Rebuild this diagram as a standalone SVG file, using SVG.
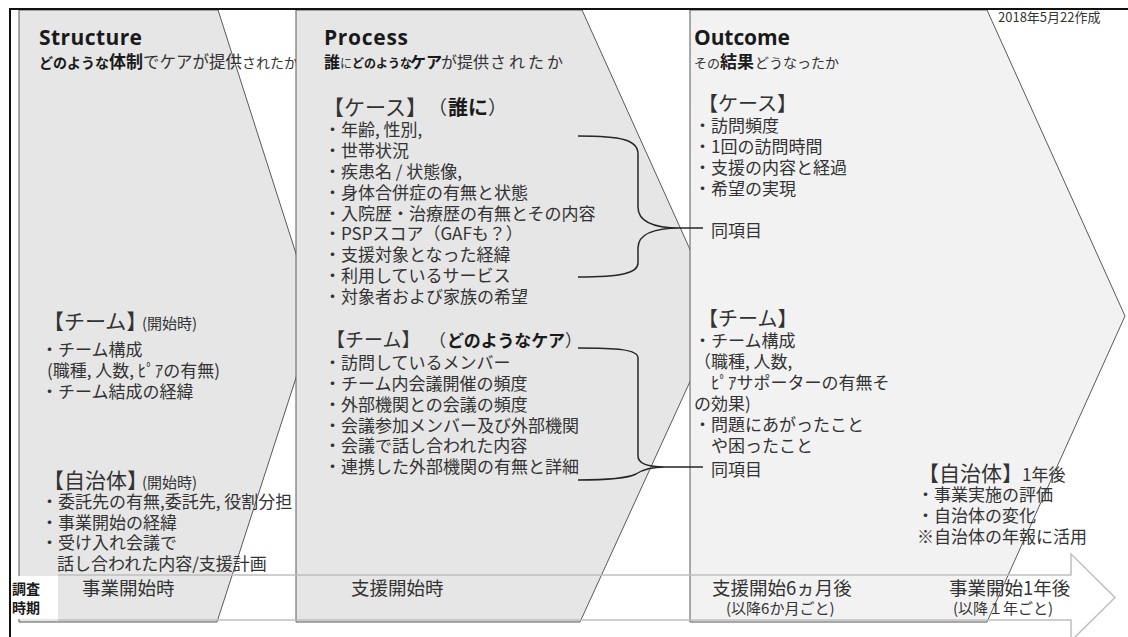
<svg xmlns="http://www.w3.org/2000/svg" width="1128" height="637" viewBox="0 0 1128 637">
<style>
.shape{stroke:#595959;stroke-width:1}
.t{font-family:"Noto Sans CJK JP","Noto Sans CJK SC",sans-serif;fill:#333333;font-size:17px}
.b{font-weight:bold;fill:#1a1a1a}
.hd{font-size:21px}
.h{font-family:"Open Sans","Liberation Sans",sans-serif;font-weight:bold;font-size:21px;fill:#1a1a1a}
.br{fill:none;stroke:#262626;stroke-width:1.5}
.arrow{fill:none;stroke:#bfbfbf;stroke-width:1.5}
.tl{font-size:18.5px}
.sm{font-size:15px}
</style>
<rect width="1128" height="637" fill="#ffffff"/>
<g id="structure">
<polygon class="shape" fill="#e6e6e6" points="19,10 218,10 316,316 217,622 19,622"/>
<text class="h" x="39" y="45" textLength="103">Structure</text>
<text class="t b" x="39" y="68" style="font-size:14px">どのような</text>
<text class="t b" x="109" y="68" style="font-size:17px">体制</text>
<text class="t" x="143" y="68" style="font-size:16.5px">でケアが提供</text>
<text class="t" x="242" y="68" style="font-size:14px">されたか</text>
<text class="t hd" x="43" y="329">【チーム】</text>
<text class="t sm" x="142" y="329">(開始時)</text>
<text class="t" x="41" y="356">・チーム構成</text>
<text class="t" x="47" y="377">(職種, 人数, ﾋﾟｱの有無)</text>
<text class="t" x="41" y="398">・チーム結成の経緯</text>
<text class="t hd" x="43" y="488">【自治体】</text>
<text class="t sm" x="142" y="488">(開始時)</text>
<text class="t" x="41" y="508">・委託先の有無,委託先, 役割分担</text>
<text class="t" x="41" y="529">・事業開始の経緯</text>
<text class="t" x="41" y="549">・受け入れ会議で</text>
<text class="t" x="57" y="570">話し合われた内容/支援計画</text>
</g>
<g id="process">
<polygon class="shape" fill="#e6e6e6" points="296,10 582,10 720,316 580,622 296,622"/>
<text class="h" x="324" y="45" textLength="84">Process</text>
<text class="t b" x="324" y="68" style="font-size:16px">誰</text>
<text class="t" x="340" y="68" style="font-size:12px">に</text>
<text class="t b" x="352" y="68" style="font-size:12px">どのような</text>
<text class="t b" x="410" y="68" style="font-size:16px">ケア</text>
<text class="t" x="441" y="68" style="font-size:16px">が提供</text>
<text class="t" x="490" y="68" style="font-size:16px;letter-spacing:3px">されたか</text>
<text class="t hd" x="323" y="115">【ケース】</text>
<text class="t" x="428" y="115" style="font-size:19px">（</text>
<text class="t b" x="448" y="115" style="font-size:20px">誰に</text>
<text class="t" x="488" y="115" style="font-size:19px">）</text>
<text class="t" x="324" y="136">・年齢, 性別,</text>
<text class="t" x="324" y="157">・世帯状況</text>
<text class="t" x="324" y="178">・疾患名 / 状態像,</text>
<text class="t" x="324" y="199">・身体合併症の有無と状態</text>
<text class="t" x="324" y="220">・入院歴・治療歴の有無とその内容</text>
<text class="t" x="324" y="240">・PSPスコア（GAFも？）</text>
<text class="t" x="324" y="261">・支援対象となった経緯</text>
<text class="t" x="324" y="282">・利用しているサービス</text>
<text class="t" x="324" y="303">・対象者および家族の希望</text>
<text class="t" x="326" y="347" style="font-size:19px">【チーム】</text>
<text class="t" x="429" y="347">（</text>
<text class="t b" x="447" y="347" textLength="118">どのようなケア</text>
<text class="t" x="565" y="347">）</text>
<text class="t" x="324" y="369">・訪問しているメンバー</text>
<text class="t" x="324" y="390">・チーム内会議開催の頻度</text>
<text class="t" x="324" y="411">・外部機関との会議の頻度</text>
<text class="t" x="324" y="432">・会議参加メンバー及び外部機関</text>
<text class="t" x="324" y="452">・会議で話し合われた内容</text>
<text class="t" x="324" y="473">・連携した外部機関の有無と詳細</text>
</g>
<g id="outcome">
<polygon class="shape" fill="#f2f2f2" points="690,10 987,10 1125,316 987,622 690,622"/>
<text class="h" x="694" y="45" textLength="96">Outcome</text>
<text class="t" x="694" y="68" style="font-size:13px">その</text>
<text class="t b" x="720" y="68" style="font-size:17px">結果</text>
<text class="t" x="755" y="68" style="font-size:14px">どうなったか</text>
<text class="t" x="698" y="111" style="font-size:20px">【ケース】</text>
<text class="t" x="694" y="132">・訪問頻度</text>
<text class="t" x="694" y="153">・1回の訪問時間</text>
<text class="t" x="694" y="174">・支援の内容と経過</text>
<text class="t" x="694" y="195">・希望の実現</text>
<text class="t" x="711" y="237">同項目</text>
<text class="t" x="698" y="326" style="font-size:20px">【チーム】</text>
<text class="t" x="694" y="347">・チーム構成</text>
<text class="t" x="694" y="368">（職種, 人数,</text>
<text class="t" x="711" y="389">ﾋﾟｱサポーターの有無そ</text>
<text class="t" x="694" y="410">の効果)</text>
<text class="t" x="694" y="431">・問題にあがったこと</text>
<text class="t" x="711" y="452">や困ったこと</text>
<text class="t" x="711" y="476">同項目</text>
<text class="t hd" x="918" y="481">【自治体】</text>
<text class="t" x="1022" y="481">1年後</text>
<text class="t" x="917" y="501">・事業実施の評価</text>
<text class="t" x="917" y="522">・自治体の変化</text>
<text class="t" x="917" y="543">※自治体の年報に活用</text>
<text class="t" x="998" y="22" style="font-size:13px">2018年5月22作成</text>
</g>
<g id="connectors">
<path class="br" d="M578,136 C622,136 638,140 638,154 V207 C638,222 655,228 680,228 H703 M680,228 C655,228 638,234 638,248 V263 C638,273 622,277 578,277"/>
<path class="br" d="M578,348 C615,348 638,349 638,358 V456 C638,464 648,467 665,467 H703 M578,480 C610,480 628,478 636,474 C642,470 650,467 665,467"/>
</g>
<g id="timeline">
<path class="arrow" d="M58,575 H1071 V554 L1115,597.5 L1071,641 V620 H58"/>
<rect x="11" y="576" width="47" height="43" fill="#ffffff"/>
<text class="t b" x="12" y="594" style="font-size:14px">調査</text>
<text class="t b" x="12" y="613" style="font-size:14px">時期</text>
<text class="t tl" x="82" y="595">事業開始時</text>
<text class="t tl" x="351" y="595">支援開始時</text>
<text class="t tl" x="712" y="595">支援開始6ヵ月後</text>
<text class="t sm" x="726" y="614">(以降6か月ごと)</text>
<text class="t tl" x="949" y="595">事業開始1年後</text>
<text class="t sm" x="953" y="614">(以降１年ごと)</text>
</g>
<g id="frame">
<line x1="10" y1="9" x2="1128" y2="9" stroke="#111" stroke-width="2"/>
<line x1="10" y1="8" x2="10" y2="637" stroke="#111" stroke-width="2"/>
</g>
</svg>
